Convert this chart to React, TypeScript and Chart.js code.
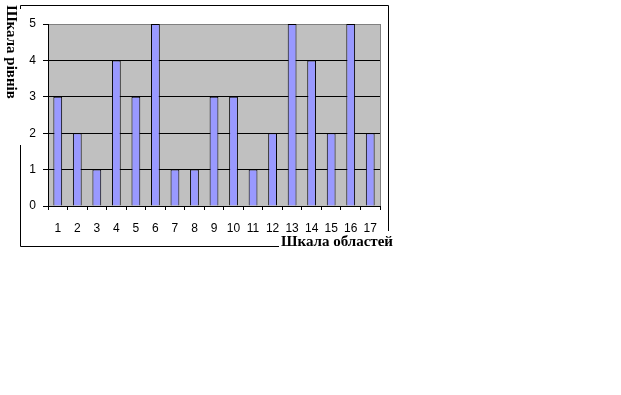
import React, { useEffect, useRef } from "react";
import { Chart, registerables } from "chart.js";

Chart.register(...registerables);

const categories: string[] = ["1","2","3","4","5","6","7","8","9","10","11","12","13","14","15","16","17"];
const levels: number[] = [3, 2, 1, 4, 3, 5, 1, 1, 3, 3, 1, 2, 5, 4, 2, 5, 2];
const yTicks: number[] = [0, 1, 2, 3, 4, 5];
const xTitle = "Шкала областей";
const yTitle = "Шкала рівнів";

const framePlugin = {
  id: "frame",
  beforeDraw(chart: any) {
    const { ctx, chartArea: a } = chart;
    ctx.save();
    ctx.fillStyle = "#ffffff";
    ctx.fillRect(0, 0, chart.width, chart.height);
    ctx.fillStyle = "#C0C0C0";
    ctx.fillRect(a.left, a.top, a.right - a.left, a.bottom - a.top);
    ctx.restore();
  },
  afterDraw(chart: any) {
    const { ctx, chartArea: a } = chart;
    ctx.save();
    ctx.strokeStyle = "#808080";
    ctx.lineWidth = 1;
    ctx.beginPath();
    ctx.moveTo(Math.round(a.right) + 0.5, a.top);
    ctx.lineTo(Math.round(a.right) + 0.5, a.bottom);
    ctx.stroke();

    ctx.strokeStyle = "#000";
    ctx.beginPath();
    ctx.moveTo(20.5, 5.5);
    ctx.lineTo(388.5, 5.5);
    ctx.moveTo(388.5, 5.5);
    ctx.lineTo(388.5, 231);
    ctx.moveTo(20.5, 5.5);
    ctx.lineTo(20.5, 9);
    ctx.moveTo(20.5, 145);
    ctx.lineTo(20.5, 246.5);
    ctx.lineTo(279, 246.5);
    ctx.stroke();

    // x title, stretched to the reference's width
    ctx.fillStyle = "#000";
    ctx.font = "bold 14px 'Liberation Serif'";
    ctx.textBaseline = "alphabetic";
    ctx.textAlign = "left";
    const w = ctx.measureText(xTitle).width;
    ctx.save();
    ctx.translate(281, 246);
    ctx.scale(112 / w, 1);
    ctx.fillText(xTitle, 0, 0);
    ctx.restore();

    // y title rotated clockwise
    ctx.translate(11, 52);
    ctx.rotate(Math.PI / 2);
    ctx.font = "bold 15px 'Liberation Serif'";
    ctx.textAlign = "center";
    ctx.textBaseline = "middle";
    ctx.fillText(yTitle, 0, 0);
    ctx.restore();
  },
};

export default function App() {
  const ref = useRef<HTMLCanvasElement>(null);
  useEffect(() => {
    if (!ref.current) return;
    const chart = new Chart(ref.current, {
      type: "bar",
      data: {
        labels: categories,
        datasets: [
          {
            data: levels,
            backgroundColor: "#9999FF",
            borderColor: "#000000",
            borderWidth: 1,
            barPercentage: 0.45,
            categoryPercentage: 1,
          },
        ],
      },
      options: {
        responsive: false,
        animation: false,
        devicePixelRatio: 1,
        layout: { padding: { left: 0, top: 24, right: 241, bottom: 149 } },
        plugins: { legend: { display: false }, tooltip: { enabled: false } },
        scales: {
          x: {
            type: "category",
            offset: true,
            grid: {
              offset: true,
              drawOnChartArea: false,
              drawTicks: true,
              tickLength: 4,
              tickColor: "#000",
            },
            border: { color: "#000", width: 1 },
            ticks: {
              color: "#000",
              font: { family: "'Liberation Sans'", size: 12 },
              padding: 11,
              maxRotation: 0,
              autoSkip: false,
            },
            afterFit: (s: any) => {
              s.height = 40;
            },
          },
          y: {
            min: 0,
            max: 5,
            afterBuildTicks: (s: any) => {
              s.ticks = yTicks.map((v) => ({ value: v }));
            },
            grid: {
              color: (c: any) => (c.tick && c.tick.value === 5 ? "#808080" : "#000"),
              tickColor: "#000",
              tickLength: 5,
              lineWidth: 1,
            },
            border: { color: "#000", width: 1 },
            ticks: {
              color: "#000",
              font: { family: "'Liberation Sans'", size: 12 },
              padding: 7,
            },
            afterFit: (s: any) => {
              s.width = 48;
            },
          },
        },
      },
      plugins: [framePlugin],
    });
    return () => chart.destroy();
  }, []);
  return (
    <div style={{ position: "fixed", left: 0, top: 0, width: 621, height: 395, background: "#fff" }}>
      <canvas ref={ref} width={621} height={395} />
    </div>
  );
}
